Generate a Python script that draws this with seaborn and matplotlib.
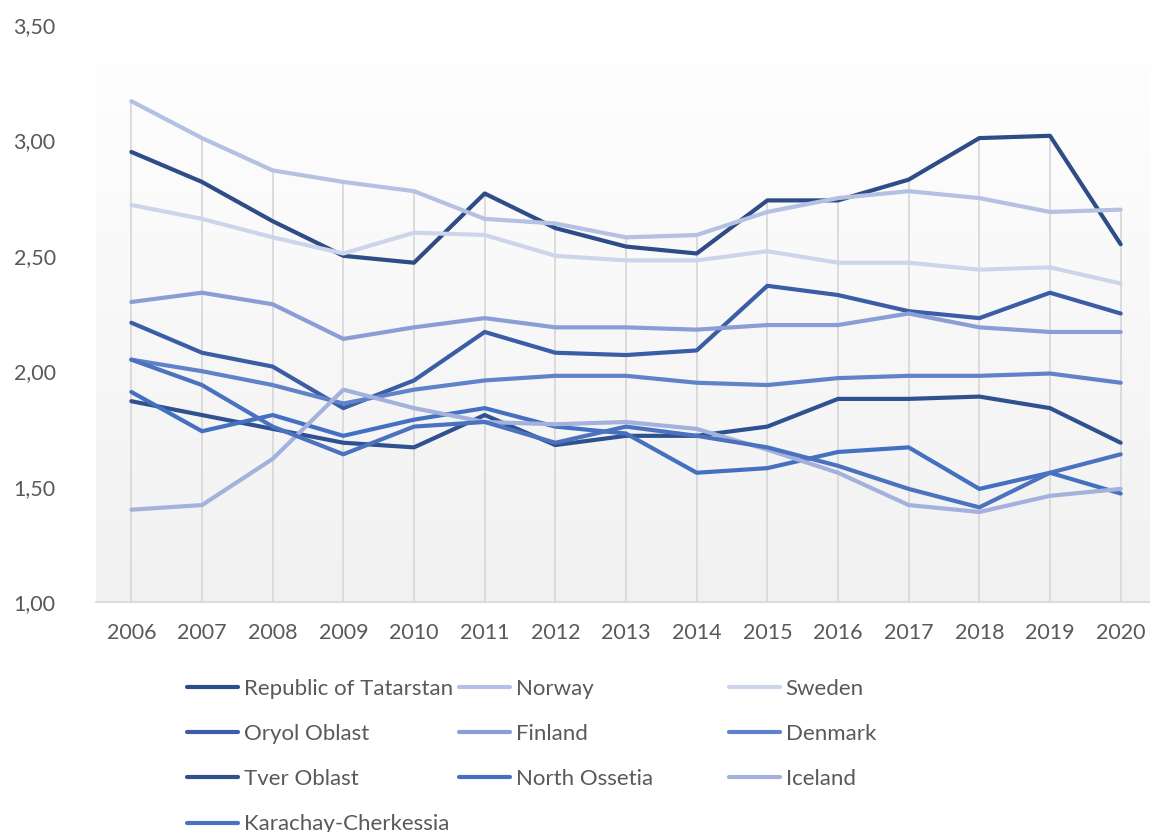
import numpy as np
import pandas as pd
import matplotlib
matplotlib.use("Agg")
import matplotlib.pyplot as plt
from matplotlib.colors import LinearSegmentedColormap
from matplotlib.lines import Line2D
import seaborn as sns

years = list(range(2006, 2021))

tatarstan = [2.95, 2.82, 2.65, 2.50, 2.47, 2.77, 2.62, 2.54, 2.51, 2.74, 2.74, 2.83, 3.01, 3.02, 2.55]
norway = [3.17, 3.01, 2.87, 2.82, 2.78, 2.66, 2.64, 2.58, 2.59, 2.69, 2.75, 2.78, 2.75, 2.69, 2.70]
sweden = [2.72, 2.66, 2.58, 2.51, 2.60, 2.59, 2.50, 2.48, 2.48, 2.52, 2.47, 2.47, 2.44, 2.45, 2.38]
oryol = [2.21, 2.08, 2.02, 1.84, 1.96, 2.17, 2.08, 2.07, 2.09, 2.37, 2.33, 2.26, 2.23, 2.34, 2.25]
finland = [2.30, 2.34, 2.29, 2.14, 2.19, 2.23, 2.19, 2.19, 2.18, 2.20, 2.20, 2.25, 2.19, 2.17, 2.17]
denmark = [2.05, 2.00, 1.94, 1.86, 1.92, 1.96, 1.98, 1.98, 1.95, 1.94, 1.97, 1.98, 1.98, 1.99, 1.95]
tver = [1.87, 1.81, 1.75, 1.69, 1.67, 1.81, 1.68, 1.72, 1.72, 1.76, 1.88, 1.88, 1.89, 1.84, 1.69]
north_ossetia = [1.91, 1.74, 1.81, 1.72, 1.79, 1.84, 1.76, 1.73, 1.56, 1.58, 1.65, 1.67, 1.49, 1.56, 1.47]
iceland = [1.40, 1.42, 1.62, 1.92, 1.84, 1.78, 1.77, 1.78, 1.75, 1.66, 1.56, 1.42, 1.39, 1.46, 1.49]
karachay = [2.05, 1.94, 1.76, 1.64, 1.76, 1.78, 1.69, 1.76, 1.72, 1.67, 1.59, 1.49, 1.41, 1.56, 1.64]

series_names = ["Republic of Tatarstan", "Norway", "Sweden", "Oryol Oblast", "Finland",
                "Denmark", "Tver Oblast", "North Ossetia", "Iceland", "Karachay-Cherkessia"]
series_values = [tatarstan, norway, sweden, oryol, finland, denmark, tver,
                 north_ossetia, iceland, karachay]
colors = ["#2E4C86", "#B4C1E2", "#CDD5EA", "#3A5DA5", "#8A9DD4",
          "#5F82CA", "#30518F", "#4470C2", "#A3B1DC", "#4A72BE"]

y_ticks = [1.0, 1.5, 2.0, 2.5, 3.0, 3.5]

rows = []
for name, vals in zip(series_names, series_values):
    for yr, v in zip(years, vals):
        rows.append({"year": yr, "value": v, "region": name})
df = pd.DataFrame(rows)

sns.set_style("white")
plt.rcParams["font.family"] = ["Lato", "DejaVu Sans"]
text_color = "#595959"

W, H = 1150, 832
fig = plt.figure(figsize=(W / 100, H / 100), dpi=100)
ax = fig.add_axes([96 / W, (H - 602) / H, (1156 - 96) / W, (602 - 25) / H])

# gradient plot-area background
cmap = LinearSegmentedColormap.from_list("bg", ["#FFFFFF", "#F1F1F1"])
ax.imshow(np.linspace(0, 1, 256).reshape(-1, 1), cmap=cmap, aspect="auto",
          extent=[years[0] - 0.5, years[-1] + 0.5, y_ticks[0], y_ticks[-1]],
          origin="upper", zorder=0)

# drop lines from the highest value at each year down to the axis
max_vals = df.groupby("year")["value"].max()
ax.vlines(max_vals.index, y_ticks[0], max_vals.values, colors="#D9D9D9",
          linewidth=1.3, zorder=1)

sns.lineplot(data=df, x="year", y="value", hue="region", hue_order=series_names,
             palette=colors, linewidth=3.0, legend=False, ax=ax,
             solid_capstyle="round", solid_joinstyle="round", zorder=3)

ax.set_xlim(years[0] - 0.5, years[-1] + 0.5)
ax.set_ylim(y_ticks[0], y_ticks[-1])
ax.set_xticks(years)
ax.set_xticklabels([str(y) for y in years])
ax.set_yticks(y_ticks)
ax.set_yticklabels([f"{v:.2f}".replace(".", ",") for v in y_ticks])
ax.set_xlabel("")
ax.set_ylabel("")
ax.grid(False)
for s in ["top", "right", "left"]:
    ax.spines[s].set_visible(False)
ax.spines["bottom"].set_color("#D9D9D9")
ax.spines["bottom"].set_linewidth(1.3)
ax.tick_params(axis="x", length=0, pad=15, labelsize=15.5, labelcolor=text_color)
ax.tick_params(axis="y", length=0, pad=29, labelsize=15.5, labelcolor=text_color)

# legend in three columns, row-major like the reference
handles = [Line2D([0], [0], color=c, linewidth=3.0, solid_capstyle="round")
           for c in colors]
col_x = [187, 459, 729]
for ci in range(3):
    idx = list(range(ci, len(series_names), 3))
    fig.legend([handles[i] for i in idx], [series_names[i] for i in idx],
               loc="upper left", bbox_to_anchor=(col_x[ci] / W, (H - 679) / H),
               frameon=False, fontsize=16, labelcolor=text_color,
               handlelength=2.3, handletextpad=0.25, labelspacing=1.13,
               borderpad=0, borderaxespad=0)

fig.savefig("out.png", dpi=100)
